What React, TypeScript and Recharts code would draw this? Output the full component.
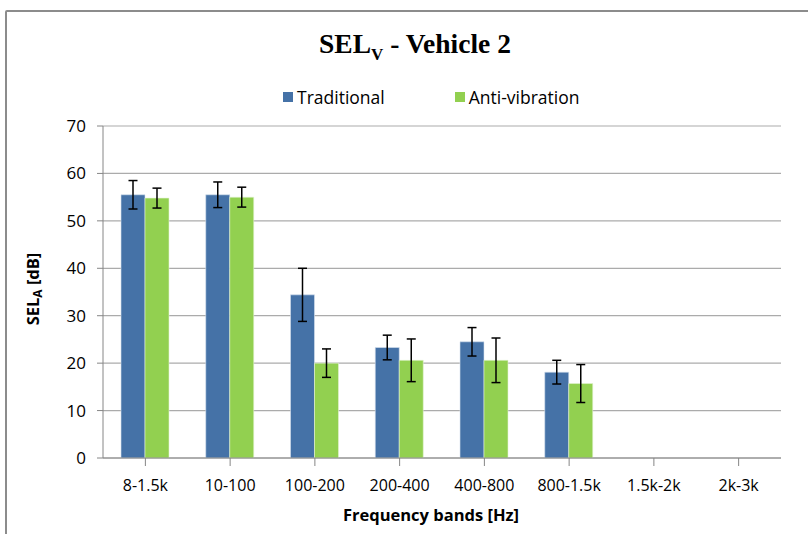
import { Bar, BarChart, CartesianGrid, ErrorBar, XAxis, YAxis } from "recharts";

const bands = ["8-1.5k", "10-100", "100-200", "200-400", "400-800", "800-1.5k", "1.5k-2k", "2k-3k"];
const traditional = [55.5, 55.5, 34.4, 23.3, 24.5, 18.1, null, null];
const traditionalErr = [3.0, 2.7, 5.6, 2.6, 3.0, 2.5, null, null];
const antiVibration = [54.8, 55.0, 20.0, 20.6, 20.6, 15.7, null, null];
const antiVibrationErr = [2.1, 2.1, 3.0, 4.5, 4.7, 4.0, null, null];
const yTicks = [0, 10, 20, 30, 40, 50, 60, 70];

const BLUE = "#4572A7";
const GREEN = "#92D050";
const FONT = "'Open Sans', sans-serif";

const rows = bands.map((band, i) => ({
  band,
  trad: traditional[i],
  tradErr: traditionalErr[i],
  anti: antiVibration[i],
  antiErr: antiVibrationErr[i],
}));

function YLabel({ viewBox }: any) {
  const cx = 35;
  const cy = viewBox ? viewBox.y + viewBox.height / 2 - 3 : 292;
  return (
    <text
      x={cx}
      y={cy}
      transform={`rotate(-90 ${cx} ${cy})`}
      textAnchor="middle"
      dominantBaseline="middle"
      fontFamily={FONT}
      fontWeight="bold"
      fontSize={16.5}
      fill="#000"
    >
      SEL
      <tspan fontSize={12} dy={4}>A</tspan>
      <tspan dy={-4}> [dB]</tspan>
    </text>
  );
}

function XLabel() {
  return (
    <text
      x={431}
      y={517}
      textAnchor="middle"
      dominantBaseline="middle"
      fontFamily={FONT}
      fontWeight="bold"
      fontSize={16.5}
      fill="#000"
    >
      Frequency bands [Hz]
    </text>
  );
}

function LegendItem({ color, label }: { color: string; label: string }) {
  return (
    <span style={{ display: "inline-flex", alignItems: "center", gap: 4 }}>
      <span style={{ width: 10, height: 10, background: color, display: "inline-block" }} />
      <span>{label}</span>
    </span>
  );
}

export default function App() {
  return (
    <div style={{ position: "fixed", left: 0, top: 0, width: 808, height: 534, background: "#fff", overflow: "hidden" }}>
      <div
        style={{
          position: "absolute",
          left: 5,
          top: 10,
          width: 840,
          height: 560,
          border: "2px solid #8c8c8c",
          borderRadius: 2,
        }}
      />
      <div
        style={{
          position: "absolute",
          left: 0,
          width: 830,
          top: 28,
          textAlign: "center",
          fontFamily: "'Liberation Serif', serif",
          fontWeight: "bold",
          fontSize: 27.5,
          color: "#000",
        }}
      >
        SEL<sub style={{ fontSize: 17 }}>V</sub> - Vehicle 2
      </div>
      <div
        style={{
          position: "absolute",
          left: 283,
          top: 85,
          display: "flex",
          gap: 70,
          fontFamily: FONT,
          fontSize: 17.5,
          color: "#000",
        }}
      >
        <LegendItem color={BLUE} label="Traditional" />
        <LegendItem color={GREEN} label="Anti-vibration" />
      </div>
      <div style={{ position: "absolute", left: 0, top: 0 }}>
        <BarChart
          width={808}
          height={534}
          data={rows}
          margin={{ top: 126, right: 27, left: 43, bottom: 46 }}
          barGap={0}
          barSize={24}
        >
          <CartesianGrid vertical={false} stroke="#ababab" strokeWidth={1.2} />
          <XAxis
            dataKey="band"
            stroke="#868686"
            height={30}
            tickSize={8}
            tickMargin={14}
            interval={0}
            tick={{ fill: "#000", fontSize: 16, fontFamily: FONT }}
            label={<XLabel />}
          />
          <YAxis
            width={60}
            domain={[0, 70]}
            ticks={yTicks}
            stroke="#868686"
            tickSize={6}
            tickMargin={11}
            tick={{ fill: "#000", fontSize: 17, fontFamily: FONT }}
            label={<YLabel />}
          />
          <Bar dataKey="trad" name="Traditional" fill={BLUE} stroke="#d8e2ee" strokeWidth={0.6} isAnimationActive={false}>
            <ErrorBar dataKey="tradErr" width={4.5} stroke="#000" strokeWidth={1.5} />
          </Bar>
          <Bar dataKey="anti" name="Anti-vibration" fill={GREEN} stroke="#e4f3d4" strokeWidth={0.6} isAnimationActive={false}>
            <ErrorBar dataKey="antiErr" width={4.5} stroke="#000" strokeWidth={1.5} />
          </Bar>
        </BarChart>
      </div>
    </div>
  );
}
